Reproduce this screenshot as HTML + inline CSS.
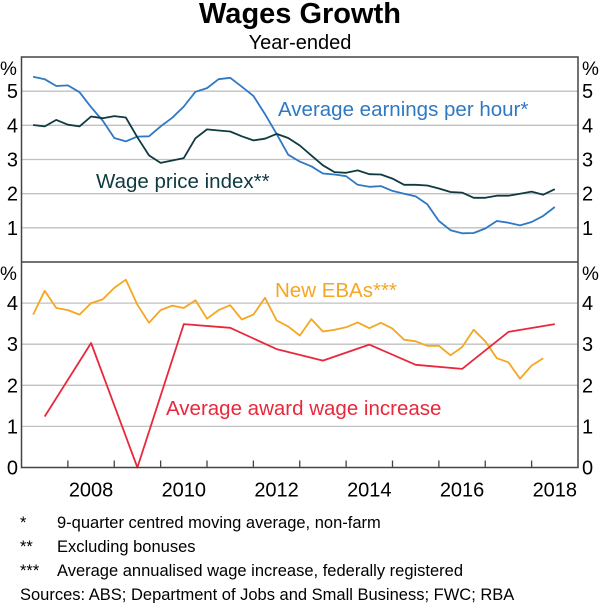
<!DOCTYPE html>
<html><head><meta charset="utf-8"><style>
body{margin:0;background:#fff;}
svg{display:block;font-family:"Liberation Sans",Arial,sans-serif;}
</style></head><body>
<svg id="c" width="600" height="603" viewBox="0 0 600 603">
<text x="300" y="23" text-anchor="middle" font-size="29" font-weight="bold" fill="#000">Wages Growth</text>
<text x="300" y="49" text-anchor="middle" font-size="20" fill="#000">Year-ended</text>
<g id="grid"></g><g id="series"></g><g id="axes"></g>
<text x="278" y="116" font-size="20.5" fill="#2f78c4">Average earnings per hour*</text>
<text x="96" y="188" font-size="20.5" fill="#0f3a40">Wage price index**</text>
<text x="275" y="297" font-size="20.5" fill="#f5a623">New EBAs***</text>
<text x="166" y="415" font-size="20.5" fill="#e8283c">Average award wage increase</text>
<g font-size="16.5" fill="#000">
<text x="20" y="528">*</text><text x="57" y="528">9-quarter centred moving average, non-farm</text>
<text x="20" y="552">**</text><text x="57" y="552">Excluding bonuses</text>
<text x="20" y="576">***</text><text x="57" y="576">Average annualised wage increase, federally registered</text>
<text x="20" y="600">Sources: ABS; Department of Jobs and Small Business; FWC; RBA</text>
</g>
</svg>
<script>
const earnings=[5.42,5.35,5.15,5.17,4.97,4.53,4.14,3.63,3.53,3.67,3.68,3.97,4.22,4.55,4.98,5.09,5.35,5.39,5.13,4.86,4.33,3.75,3.14,2.94,2.80,2.59,2.56,2.51,2.26,2.20,2.22,2.08,2.00,1.92,1.69,1.20,0.93,0.84,0.85,0.98,1.20,1.15,1.07,1.17,1.35,1.61];
const wpi=[4.01,3.97,4.16,4.02,3.97,4.26,4.21,4.27,4.23,3.65,3.12,2.90,2.97,3.04,3.62,3.88,3.85,3.82,3.68,3.56,3.61,3.75,3.63,3.41,3.12,2.83,2.63,2.61,2.68,2.57,2.56,2.44,2.26,2.26,2.24,2.15,2.05,2.03,1.88,1.88,1.94,1.94,2.00,2.06,1.97,2.13];
const ebas=[3.72,4.30,3.88,3.83,3.72,4.00,4.09,4.37,4.57,3.96,3.52,3.83,3.94,3.88,4.07,3.62,3.83,3.95,3.60,3.72,4.13,3.58,3.43,3.21,3.61,3.31,3.35,3.41,3.53,3.39,3.52,3.38,3.11,3.07,2.96,2.96,2.73,2.93,3.35,3.07,2.66,2.56,2.16,2.48,2.66];
const award=[1.24,3.03,0,3.49,3.40,2.88,2.60,2.99,2.50,2.40,3.30,3.49];
const topTicks=[1,2,3,4,5];
const botTicks=[0,1,2,3,4];
const yearLabels=[2008,2010,2012,2014,2016,2018];
const L=21.5,R=578,T=57,M=262,B=467.5;
const X=t=>L+(t-2007)*(R-L)/12;
const YT=v=>M-v*(M-T)/6;
const YB=v=>B-v*(B-M)/5;
const NS='http://www.w3.org/2000/svg';
function mk(tag,attrs,parent){const e=document.createElementNS(NS,tag);for(const k in attrs)e.setAttribute(k,attrs[k]);parent.appendChild(e);return e;}
const grid=document.getElementById('grid'),ser=document.getElementById('series'),ax=document.getElementById('axes');
topTicks.forEach(v=>{
 const l=mk('line',{x1:L,x2:R,y1:YT(v),y2:YT(v),stroke:'#c0c0c0','stroke-width':1.3},grid);
 
 
 [[18,'end'],[582,'start']].forEach(([x,a])=>{const t=mk('text',{x:x,y:YT(v)+7,'font-size':20,'text-anchor':a},ax);t.textContent=v;
 
 });
});
botTicks.forEach(v=>{
 if(v>0){const l=mk('line',{x1:L,x2:R,y1:YB(v),y2:YB(v),stroke:'#c0c0c0','stroke-width':1.3},grid);
 
 }
 [[18,'end'],[582,'start']].forEach(([x,a])=>{const t=mk('text',{x:x,y:YB(v)+7,'font-size':20,'text-anchor':a},ax);t.textContent=v;
 
 });
});
[[0,75],[582,75],[0,280],[582,280]].forEach(([x,y])=>{const t=mk('text',{x:x,y:y,'font-size':19},ax);t.textContent='%';
 
 });
function line(arr,tx,fy,col,name){
 const d=arr.map((v,i)=>(i?'L':'M')+tx(i).toFixed(1)+' '+fy(v).toFixed(1)).join(' ');
 const p=mk('path',{d:d,fill:'none',stroke:col,'stroke-width':1.8,'stroke-linejoin':'round'},ser);
 
 
}
line(earnings,i=>X(2007.25+i*0.25),YT,'#2f78c4','earnings-line');
line(wpi,i=>X(2007.25+i*0.25),YT,'#0f3a40','wpi-line');
line(ebas,i=>X(2007.25+i*0.25),YB,'#f5a623','ebas-line');
line(award,i=>X(2007.5+i),YB,'#e8283c','award-line');
const fr=mk('rect',{x:L,y:T,width:R-L,height:B-T,fill:'none',stroke:'#444','stroke-width':1.5},ax);


const dv=mk('line',{x1:L,x2:R,y1:M,y2:M,stroke:'#444','stroke-width':1.5},ax);


for(let y=2008;y<=2018;y++){const t=mk('line',{x1:X(y),x2:X(y),y1:B,y2:B-7,stroke:'#444','stroke-width':1.3},ax);
 
 }
yearLabels.forEach(y=>{const t=mk('text',{x:X(y+0.5),y:B+29,'font-size':20,'text-anchor':'middle'},ax);t.textContent=y;
 
 });
</script>
</body></html>
